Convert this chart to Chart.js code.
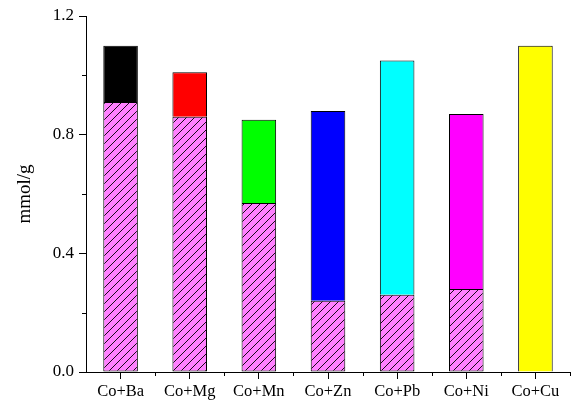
<!DOCTYPE html>
<html>
<head>
<meta charset="utf-8">
<script src="https://cdn.jsdelivr.net/npm/chart.js@4.4.1/dist/chart.umd.min.js"></script>
<style>
  html, body { margin: 0; padding: 0; background: #fff; }
  #wrap { width: 579px; height: 402px; position: relative; }
</style>
</head>
<body>
<div id="wrap"><canvas id="c"></canvas></div>
<script>
// Adsorbed amounts (mmol/g) for binary metal systems
const categories = ['Co+Ba', 'Co+Mg', 'Co+Mn', 'Co+Zn', 'Co+Pb', 'Co+Ni', 'Co+Cu'];
const cobaltValues = [0.91, 0.86, 0.57, 0.24, 0.26, 0.28, 0.0];
const totalValues  = [1.10, 1.01, 0.85, 0.88, 1.05, 0.87, 1.10];
const partnerColors = ['#000000', '#ff0000', '#00ff00', '#0000ff', '#00ffff', '#ff00ff', '#ffff00'];
const yTicks = [0, 0.4, 0.8, 1.2];
const yMinorTicks = [0.2, 0.6, 1.0];

const partnerValues = totalValues.map((t, i) => +(t - cobaltValues[i]).toFixed(2));

// Diagonal hatch fill for the cobalt part of each bar
function makeHatch() {
  const s = 8;
  const p = document.createElement('canvas');
  p.width = s; p.height = s;
  const g = p.getContext('2d');
  g.fillStyle = '#ff80ff';
  g.fillRect(0, 0, s, s);
  g.strokeStyle = '#1a0a1a';
  g.lineWidth = 1;
  g.beginPath();
  g.moveTo(-1, s + 1); g.lineTo(s + 1, -1);
  g.moveTo(-1, 1); g.lineTo(1, -1);
  g.moveTo(s - 1, s + 1); g.lineTo(s + 1, s - 1);
  g.stroke();
  return g.createPattern(p, 'repeat');
}

// Short minor tick marks on both axes
const minorTicks = {
  id: 'minorTicks',
  afterDraw(chart) {
    const ctx = chart.ctx;
    const x = chart.scales.x, y = chart.scales.y;
    ctx.save();
    ctx.strokeStyle = '#000';
    ctx.lineWidth = 1;
    ctx.beginPath();
    yMinorTicks.forEach(v => {
      const py = Math.round(y.getPixelForValue(v)) + 0.5;
      ctx.moveTo(x.left - 4, py); ctx.lineTo(x.left, py);
    });
    const half = (x.getPixelForValue(1) - x.getPixelForValue(0)) / 2;
    for (let i = 0; i < categories.length; i++) {
      const px = Math.round(x.getPixelForValue(i) + half) + 0.5;
      ctx.moveTo(px, y.bottom); ctx.lineTo(px, y.bottom + 4);
    }
    ctx.stroke();
    ctx.restore();
  }
};

const serif = "'Liberation Serif', 'Times New Roman', serif";

new Chart(document.getElementById('c'), {
  type: 'bar',
  data: {
    labels: categories,
    datasets: [
      {
        label: 'Co',
        data: cobaltValues,
        backgroundColor: makeHatch(),
        borderColor: '#000',
        borderWidth: 1,
        borderSkipped: false,
        barPercentage: 0.5,
        categoryPercentage: 1.0
      },
      {
        label: 'M',
        data: partnerValues,
        backgroundColor: partnerColors,
        borderColor: '#000',
        borderWidth: 1,
        borderSkipped: 'start',
        barPercentage: 0.5,
        categoryPercentage: 1.0
      }
    ]
  },
  options: {
    responsive: true,
    maintainAspectRatio: false,
    animation: false,
    layout: { padding: { top: 16, right: 9, left: 0, bottom: 0 } },
    plugins: { legend: { display: false }, tooltip: { enabled: false } },
    scales: {
      x: {
        stacked: true,
        offset: true,
        grid: {
          offset: false,
          drawOnChartArea: false,
          drawTicks: true,
          tickLength: 7,
          tickColor: '#000',
          color: '#000'
        },
        border: { display: true, color: '#000', width: 1 },
        ticks: {
          color: '#000',
          font: { family: serif, size: 16.5 },
          padding: 3,
          maxRotation: 0,
          autoSkip: false
        },
        afterFit(s) { s.height = 30; }
      },
      y: {
        stacked: true,
        min: 0,
        max: 1.2,
        afterBuildTicks(s) { s.ticks = yTicks.map(v => ({ value: v })); },
        grid: {
          drawOnChartArea: false,
          drawTicks: true,
          tickLength: 7,
          tickColor: '#000',
          color: '#000'
        },
        border: { display: true, color: '#000', width: 1 },
        ticks: {
          color: '#000',
          font: { family: serif, size: 17 },
          padding: 5,
          callback: v => v.toFixed(1)
        },
        title: {
          display: true,
          text: 'mmol/g',
          color: '#000',
          font: { family: serif, size: 19 },
          padding: { top: 14, bottom: 0 }
        },
        afterFit(s) { s.width = 86; }
      }
    }
  },
  plugins: [minorTicks]
});
</script>
</body>
</html>
